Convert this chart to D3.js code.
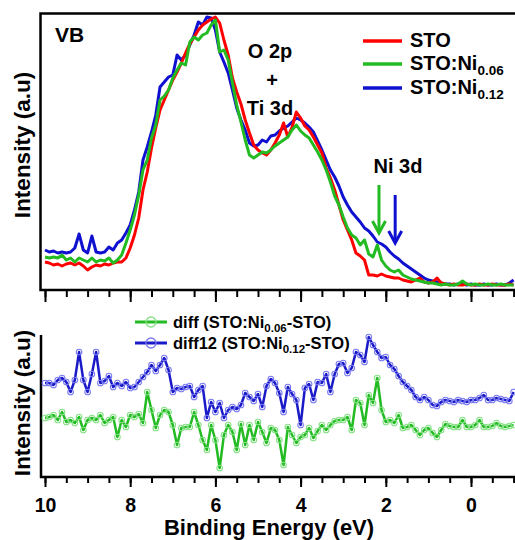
<!DOCTYPE html>
<html>
<head>
<meta charset="utf-8">
<script src="https://cdn.jsdelivr.net/npm/d3@7"></script>
<style>
  body { margin: 0; background: #fff; }
  svg { display: block; }
</style>
</head>
<body>
<div id="chart"></div>
<script>
// binding energy grid (eV), 10.0 down to -1.0
const energy = d3.range(0, 111).map(i => +(10 - i * 0.1).toFixed(1));

// VB spectra (a.u.)
const sto = [28,27,25,26,24,26,27,25,27,24,
  20,23,25,24,26,25,27,28,28,32,
  42,55,72,100,118,142,162,180,190,200,
  210,218,227,237,246,253,260,265,268,271,
  273,267,250,235,212,198,186,170,157,145,
  140,137,135,140,147,155,167,153,163,178,
  172,164,160,153,145,137,122,112,100,85,
  70,60,50,37,34,30,15,15,14,16,
  14,13,12,12,10,9,8,10,12,8,
  7,8,12,7,6,5,6,5,5,6,
  5,5,6,5,5,6,5,5,5,6,
  5];
const stoNi06 = [33,32,33,32,35,30,32,28,32,30,
  28,32,28,30,29,32,27,30,35,47,
  60,75,95,120,130,152,165,190,194,200,
  212,220,227,225,248,253,250,255,257,265,
  270,238,240,230,207,185,168,150,135,132,
  135,138,137,140,144,147,150,153,160,165,
  159,155,152,145,138,130,120,108,94,85,
  73,62,55,52,45,50,36,33,45,30,
  24,20,18,20,15,13,11,10,9,8,
  7,7,6,5,6,5,5,6,9,6,
  5,6,5,5,6,5,5,6,5,5,
  5];
const stoNi12 = [40,38,39,37,38,37,38,42,56,40,
  37,54,38,37,38,43,40,47,50,57,
  65,80,98,130,143,158,175,203,208,213,
  215,235,230,235,245,255,268,265,273,272,
  260,238,228,217,200,182,170,160,147,144,
  145,150,148,154,155,159,162,164,168,172,
  170,167,163,158,149,140,130,120,113,104,
  93,85,78,73,68,62,59,54,48,46,
  43,38,34,31,27,24,21,18,15,12,
  10,9,8,7,6,6,5,6,6,5,
  6,5,5,6,5,5,6,5,5,7,
  10];

// difference spectra (a.u.)
const diff06 = [9,10,12,7,15,5,7,4,10,-3,
  7,9,7,12,4,7,10,-10,7,0,
  12,10,13,4,35,17,-1,12,17,15,
  2,-18,-1,0,0,15,2,-13,-23,2,
  -13,-41,-8,2,-5,-23,3,-18,2,-13,
  5,-5,-16,-1,-3,-13,-38,0,-8,-16,
  -10,-8,-1,-11,-4,2,-3,2,6,7,
  7,10,-3,27,24,2,32,24,49,17,
  5,7,4,12,-1,0,2,-3,-8,-3,
  -1,-6,-10,-3,3,1,0,0,7,0,
  0,2,7,0,0,1,4,1,0,1,
  2];
const diff12 = [44,44,42,47,49,45,35,47,75,47,
  35,53,75,44,46,51,40,44,41,45,
  39,40,45,50,55,62,56,62,69,57,
  35,39,38,40,41,30,37,41,9,25,
  15,24,9,17,20,18,22,34,30,26,
  33,20,41,48,44,34,15,40,33,27,
  2,39,43,27,45,44,53,35,53,63,
  64,54,59,75,72,65,90,82,75,69,
  70,62,58,51,45,41,37,30,27,30,
  27,22,21,25,27,26,25,27,26,25,
  27,27,29,32,27,27,29,28,27,26,
  35];

const majorTicks = [10, 8, 6, 4, 2, 0];
const minorTicks = [10, 9.5, 9, 8.5, 8, 7.5, 7, 6.5, 6, 5.5, 5, 4.5, 4, 3.5, 3, 2.5, 2, 1.5, 1, 0.5, 0, -0.5, -1];

// Ni 3d arrows: energy, top and tip intensity
const arrowE = [2.16, 1.78];
const arrowTop = [105, 95];
const arrowTip = [57, 47];
const arrowColor = ["#22bb22", "#1010d0"];

const font = "'Liberation Sans', Arial, sans-serif";
const red = "#ff0000", green = "#22bb22", blue = "#1010d0";

const width = 515, height = 540;
const svg = d3.select("#chart").append("svg")
  .attr("width", width)
  .attr("height", height)
  .style("font-family", font);

const x = d3.scaleLinear().domain([10, -1]).range([45, 513.6]);
const yTop = d3.scaleLinear().domain([0, 276]).range([290, 14]);
const yBot = d3.scaleLinear().domain([-50, 92]).range([477, 335]);

// ---------- top panel ----------
svg.append("rect")
  .attr("x", 40.5).attr("y", 13.5)
  .attr("width", 500).attr("height", 276.5)
  .attr("fill", "none").attr("stroke", "black").attr("stroke-width", 2.5);

function tickAxis(yPos, vals, size) {
  const g = svg.append("g")
    .attr("transform", `translate(0, ${yPos})`)
    .call(d3.axisBottom(x).tickValues(vals).tickSize(size).tickFormat(""));
  g.select(".domain").remove();
  g.selectAll(".tick line").attr("stroke-width", 2);
  return g;
}
tickAxis(290, minorTicks, 7);
tickAxis(290, majorTicks, 12);

const lineTop = (vals) => d3.line()
  .x((d, i) => x(energy[i]))
  .y(d => yTop(d))(vals);

[[stoNi12, blue], [sto, red], [stoNi06, green]].forEach(([vals, c]) => {
  svg.append("path")
    .attr("d", lineTop(vals))
    .attr("fill", "none")
    .attr("stroke", c)
    .attr("stroke-width", 3)
    .attr("stroke-linejoin", "round");
});

// arrows
arrowE.forEach((e, i) => {
  const ax = x(e), y0 = yTop(arrowTop[i]), y1 = yTop(arrowTip[i]);
  svg.append("line")
    .attr("x1", ax).attr("x2", ax).attr("y1", y0).attr("y2", y1)
    .attr("stroke", arrowColor[i]).attr("stroke-width", 3);
  svg.append("path")
    .attr("d", `M${ax - 6.5},${y1 - 12}L${ax},${y1}L${ax + 6.5},${y1 - 12}`)
    .attr("fill", "none").attr("stroke", arrowColor[i]).attr("stroke-width", 3);
});

// annotations
const ann = (t, ax, ay, anchor) => svg.append("text")
  .attr("x", ax).attr("y", ay)
  .attr("text-anchor", anchor || "middle")
  .attr("font-size", "20px").attr("font-weight", "bold")
  .text(t);
svg.append("text").attr("x", 55).attr("y", 42)
  .attr("font-size", "21px").attr("font-weight", "bold").text("VB");
ann("O 2p", 270, 58);
ann("+", 272, 87);
ann("Ti 3d", 270, 115);
ann("Ni 3d", 398, 173);

// top legend
const legTop = [
  { label: "STO", sub: "", c: red, y: 41 },
  { label: "STO:Ni", sub: "0.06", c: green, y: 64 },
  { label: "STO:Ni", sub: "0.12", c: blue, y: 88 }
];
legTop.forEach(d => {
  svg.append("line")
    .attr("x1", 363).attr("x2", 402).attr("y1", d.y).attr("y2", d.y)
    .attr("stroke", d.c).attr("stroke-width", 3.5);
  const t = svg.append("text")
    .attr("x", 410).attr("y", d.y + 6)
    .attr("font-size", "20px").attr("font-weight", "bold")
    .text(d.label);
  if (d.sub) t.append("tspan").attr("dy", 5).attr("font-size", "13.5px").text(d.sub);
});

// ---------- bottom panel ----------
svg.append("line").attr("x1", 41).attr("x2", 41).attr("y1", 335).attr("y2", 478)
  .attr("stroke", "black").attr("stroke-width", 2.5);
svg.append("line").attr("x1", 40).attr("x2", 520).attr("y1", 477).attr("y2", 477)
  .attr("stroke", "black").attr("stroke-width", 2.5);

tickAxis(477, minorTicks, 6);
const bAx = tickAxis(477, majorTicks, 10);
bAx.call(g => g.selectAll(".tick").each(function (d) {
  d3.select(this).append("text")
    .attr("y", 512).attr("dy", 0)
    .attr("transform", "translate(0,-477)")
    .attr("text-anchor", "middle")
    .attr("fill", "black")
    .attr("font-size", "19.5px").attr("font-weight", "bold")
    .attr("font-family", font)
    .text(d);
}));

const lineBot = (vals) => d3.line()
  .x((d, i) => x(energy[i]))
  .y(d => yBot(d))(vals);

const diffSeries = [
  { vals: diff12, c: "#1a1ac8", m: "#7a7af0" },
  { vals: diff06, c: "#22bb22", m: "#86e086" }
];
diffSeries.forEach(s => {
  svg.append("path")
    .attr("d", lineBot(s.vals))
    .attr("fill", "none").attr("stroke", s.c).attr("stroke-width", 2.5)
    .attr("stroke-linejoin", "round");
  svg.append("g").selectAll("circle")
    .data(s.vals)
    .enter()
    .append("circle")
    .attr("cx", (d, i) => x(energy[i]))
    .attr("cy", d => yBot(d))
    .attr("r", 2.8)
    .attr("fill", "none")
    .attr("stroke", s.m)
    .attr("stroke-width", 1.1);
});

// bottom legend
const legBot = [
  { pre: "diff (STO:Ni", sub: "0.06", post: "-STO)", c: "#22bb22", m: "#86e086", y: 322 },
  { pre: "diff12 (STO:Ni", sub: "0.12", post: "-STO)", c: "#1a1ac8", m: "#7a7af0", y: 343 }
];
legBot.forEach(d => {
  svg.append("line")
    .attr("x1", 135).attr("x2", 167).attr("y1", d.y).attr("y2", d.y)
    .attr("stroke", d.c).attr("stroke-width", 3);
  svg.append("circle")
    .attr("cx", 151).attr("cy", d.y).attr("r", 5)
    .attr("fill", "none").attr("stroke", d.m).attr("stroke-width", 1.3);
  const t = svg.append("text")
    .attr("x", 173).attr("y", d.y + 5.5)
    .attr("font-size", "16.5px").attr("font-weight", "bold")
    .text(d.pre);
  t.append("tspan").attr("dy", 4).attr("font-size", "11.5px").text(d.sub);
  t.append("tspan").attr("dy", -4).text(d.post);
});

// axis titles
svg.append("text")
  .attr("transform", "translate(30,145) rotate(-90)")
  .attr("text-anchor", "middle")
  .attr("font-size", "22.5px").attr("font-weight", "bold")
  .text("Intensity (a.u)");
svg.append("text")
  .attr("transform", "translate(30,403) rotate(-90)")
  .attr("text-anchor", "middle")
  .attr("font-size", "22.5px").attr("font-weight", "bold")
  .text("Intensity (a.u)");
svg.append("text")
  .attr("x", 269).attr("y", 535)
  .attr("text-anchor", "middle")
  .attr("font-size", "22px").attr("font-weight", "bold")
  .text("Binding Energy (eV)");
</script>
</body>
</html>
